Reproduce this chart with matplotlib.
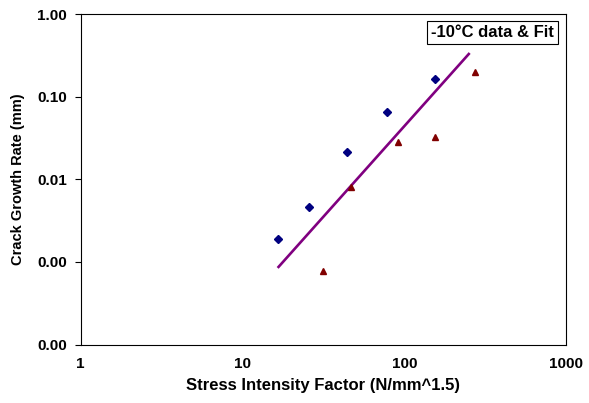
import matplotlib
matplotlib.use("Agg")
import matplotlib.pyplot as plt
from matplotlib.ticker import FixedLocator, FormatStrFormatter, NullLocator

plt.rcParams['font.family'] = ['Liberation Sans', 'DejaVu Sans']
plt.rcParams['font.weight'] = 'bold'

# data (log-log)
blue_k = [16.5, 25.7, 44.5, 77.7, 155.6]
blue_rate = [0.00187, 0.00459, 0.0214, 0.0649, 0.163]
red_k = [31.5, 47.0, 91.8, 155.6, 274.0]
red_rate = [0.000787, 0.0081, 0.028, 0.0322, 0.199]
fit_k = [16.5, 253.7]
fit_rate = [0.000847, 0.338]

x_ticks = [1, 10, 100, 1000]
y_ticks = [0.0001, 0.001, 0.01, 0.1, 1]

fig = plt.figure(figsize=(5.89, 4.03), dpi=100)
ax = fig.add_axes([0.137, 0.145, 0.824, 0.82])

ax.plot(fit_k, fit_rate, color="#800080", linewidth=1.9, solid_capstyle="butt")
ax.plot(blue_k, blue_rate, linestyle="none", marker="D", markersize=3.8,
        color="#000080")
ax.plot(red_k, red_rate, linestyle="none", marker="^", markersize=5,
        color="#800000")

ax.set_xscale("log")
ax.set_yscale("log")
ax.set_xlim(1, 1000)
ax.set_ylim(0.0001, 1)

ax.xaxis.set_major_locator(FixedLocator(x_ticks))
ax.yaxis.set_major_locator(FixedLocator(y_ticks))
ax.xaxis.set_minor_locator(NullLocator())
ax.yaxis.set_minor_locator(NullLocator())
ax.xaxis.set_major_formatter(FormatStrFormatter('%g'))
ax.yaxis.set_major_formatter(FormatStrFormatter('%.2f'))
ax.tick_params(axis="y", direction="out", length=4.5, width=0.8, labelsize=11, pad=5.5)
ax.tick_params(axis="x", length=0, labelsize=11, pad=9)
for lab in ax.get_xticklabels() + ax.get_yticklabels():
    lab.set_fontweight("bold")

for s in ax.spines.values():
    s.set_linewidth(0.8)

ax.set_xlabel("Stress Intensity Factor (N/mm^1.5)", fontsize=12, fontweight="bold",
              labelpad=5)
ax.set_ylabel("Crack Growth Rate (mm)", fontsize=10.5, fontweight="bold", labelpad=9)

ax.text(0.975, 0.945, "-10\u00b0C data & Fit", transform=ax.transAxes,
        ha="right", va="center", fontsize=12, fontweight="bold",
        bbox=dict(boxstyle="square,pad=0.25", facecolor="white",
                  edgecolor="black", linewidth=0.8))

fig.savefig("out.png", dpi=100)
